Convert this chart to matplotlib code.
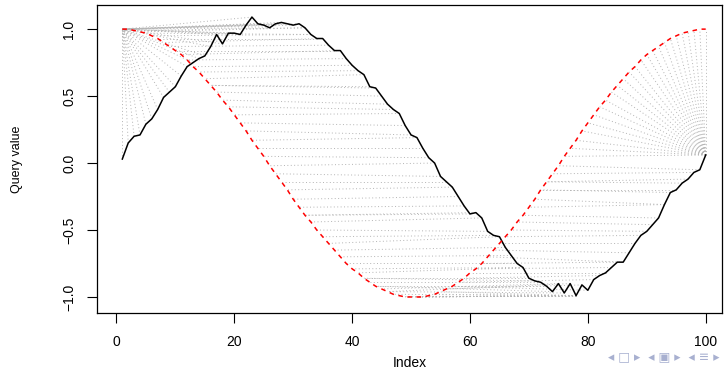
import numpy as np
import matplotlib.pyplot as plt

plt.rcParams['font.family'] = ['Liberation Sans', 'DejaVu Sans']

# query series (noisy sine)
query = [0.03, 0.15, 0.20, 0.21, 0.29, 0.33, 0.40, 0.49, 0.53, 0.57,
         0.65, 0.72, 0.75, 0.78, 0.80, 0.87, 0.96, 0.89, 0.97, 0.97,
         0.96, 1.03, 1.09, 1.04, 1.03, 1.01, 1.04, 1.05, 1.04, 1.03,
         1.04, 1.01, 0.96, 0.93, 0.93, 0.88, 0.84, 0.84, 0.78, 0.73,
         0.69, 0.66, 0.57, 0.56, 0.50, 0.44, 0.40, 0.37, 0.28, 0.21,
         0.19, 0.11, 0.04, 0.00, -0.10, -0.14, -0.18, -0.25, -0.32, -0.38,
         -0.37, -0.41, -0.51, -0.54, -0.55, -0.63, -0.69, -0.75, -0.78, -0.86,
         -0.88, -0.89, -0.92, -0.96, -0.90, -0.97, -0.90, -0.99, -0.91, -0.95,
         -0.87, -0.84, -0.82, -0.78, -0.74, -0.74, -0.67, -0.60, -0.54, -0.51,
         -0.46, -0.41, -0.31, -0.22, -0.20, -0.15, -0.12, -0.07, -0.05, 0.06]

# reference series (cosine)
reference = [1.00, 1.00, 0.99, 0.98, 0.97, 0.95, 0.93, 0.90, 0.87, 0.84,
             0.81, 0.77, 0.72, 0.68, 0.63, 0.58, 0.53, 0.47, 0.42, 0.36,
             0.30, 0.24, 0.17, 0.11, 0.05, -0.02, -0.08, -0.14, -0.20, -0.27,
             -0.33, -0.39, -0.44, -0.50, -0.55, -0.60, -0.65, -0.70, -0.75, -0.79,
             -0.82, -0.86, -0.89, -0.92, -0.94, -0.96, -0.98, -0.99, -1.00, -1.00,
             -1.00, -1.00, -0.99, -0.98, -0.96, -0.94, -0.92, -0.89, -0.86, -0.82,
             -0.79, -0.75, -0.70, -0.65, -0.60, -0.55, -0.50, -0.44, -0.39, -0.33,
             -0.27, -0.20, -0.14, -0.08, -0.02, 0.05, 0.11, 0.17, 0.24, 0.30,
             0.36, 0.42, 0.47, 0.53, 0.58, 0.63, 0.68, 0.72, 0.77, 0.81,
             0.84, 0.87, 0.90, 0.93, 0.95, 0.97, 0.98, 0.99, 1.00, 1.00]

q = np.array(query)
r = np.array(reference)
n, m = len(q), len(r)
idx = np.arange(1, n + 1)

# dtw with symmetric2 step pattern
d = np.abs(q[:, None] - r[None, :])
g = np.full((n, m), np.inf)
g[0, 0] = 2 * d[0, 0]
for i in range(n):
    for j in range(m):
        if i == 0 and j == 0:
            continue
        best = np.inf
        if i > 0 and j > 0:
            best = min(best, g[i-1, j-1] + 2 * d[i, j])
        if i > 0:
            best = min(best, g[i-1, j] + d[i, j])
        if j > 0:
            best = min(best, g[i, j-1] + d[i, j])
        g[i, j] = best

i, j = n - 1, m - 1
path = [(i, j)]
while i > 0 or j > 0:
    opts = []
    if i > 0 and j > 0:
        opts.append((g[i-1, j-1], i-1, j-1))
    if i > 0:
        opts.append((g[i-1, j], i-1, j))
    if j > 0:
        opts.append((g[i, j-1], i, j-1))
    _, i, j = min(opts)
    path.append((i, j))

fig = plt.figure(figsize=(7.27, 3.69), dpi=100)
ax = fig.add_axes([0.1334, 0.152, 0.860, 0.834])

for a, b in path:
    ax.plot([a + 1, b + 1], [q[a], r[b]], color='#b3b3b3', lw=0.7,
            linestyle=(0, (1, 2.5)))

ax.plot(idx, q, color='black', lw=1.1)
ax.plot(idx, r, color='red', lw=1.1, linestyle=(0, (3, 3)))

ax.set_xlim(-3.3, 102.8)
ax.set_ylim(-1.119, 1.179)
ax.set_xticks([0, 20, 40, 60, 80, 100])
ax.set_yticks([-1.0, -0.5, 0.0, 0.5, 1.0])
ax.set_yticklabels(['\u22121.0', '\u22120.5', '0.0', '0.5', '1.0'],
                   rotation=90, va='center')
ax.tick_params(axis='both', direction='out', length=7, width=0.8, labelsize=10)
ax.tick_params(axis='x', pad=9)
ax.tick_params(axis='y', pad=8)
for s in ax.spines.values():
    s.set_linewidth(0.9)

ax.set_xlabel('Index', fontsize=10, labelpad=5)
ax.set_ylabel('Query value', fontsize=9, labelpad=28)

fig.text(0.99, 0.015, '\u25c2 \u25a1 \u25b8  \u25c2 \u25a3 \u25b8  \u25c2 \u2261 \u25b8',
         ha='right', va='bottom', fontsize=9, color='#a8b0d0',
         family=['DejaVu Sans'])

fig.savefig('out.png', dpi=100)
